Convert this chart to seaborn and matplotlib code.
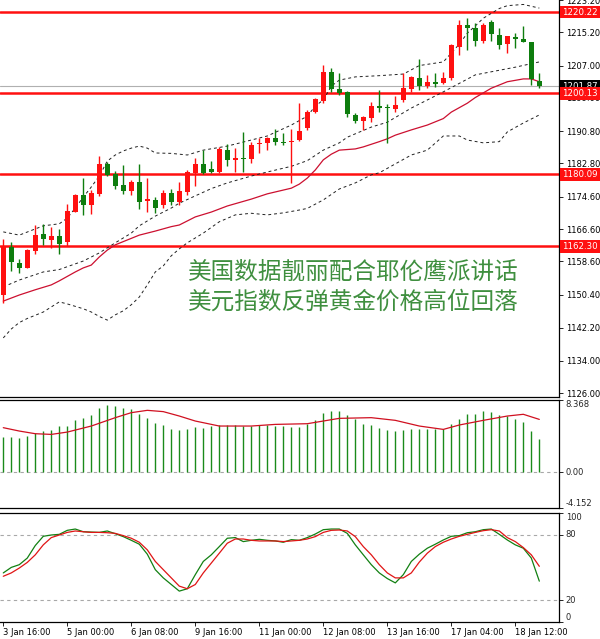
import numpy as np
import pandas as pd
import matplotlib
matplotlib.use("Agg")
import matplotlib.pyplot as plt
import matplotlib.transforms as mtransforms
import seaborn as sns

# ---------------- data ----------------
time_labels = ["3 Jan 16:00", "5 Jan 00:00", "6 Jan 08:00", "9 Jan 16:00", "11 Jan 00:00",
               "12 Jan 08:00", "13 Jan 16:00", "17 Jan 04:00", "18 Jan 12:00"]
label_bars = [0, 8, 16, 24, 32, 40, 48, 56, 64]

opens = [1150.32, 1162.10, 1158.30, 1157.06, 1161.26, 1165.39, 1163.98, 1164.89, 1163.48, 1170.89,
         1175.02, 1172.55, 1175.26, 1182.67, 1180.13, 1177.49, 1176.08, 1178.30, 1173.54, 1173.78,
         1172.55, 1175.44, 1173.36, 1175.83, 1180.53, 1182.67, 1181.44, 1180.77, 1186.13, 1183.66,
         1184.23, 1183.91, 1187.54, 1187.79, 1189.02, 1188.18, 1188.03, 1188.60, 1191.49, 1195.44,
         1198.31, 1205.47, 1201.20, 1200.38, 1194.78, 1193.37, 1193.96, 1197.00, 1196.68, 1196.26,
         1198.48, 1201.20, 1203.99, 1201.94, 1202.85, 1202.60, 1203.84, 1211.64, 1217.00, 1216.34,
         1213.05, 1217.67, 1214.53, 1212.24, 1214.11, 1213.55, 1212.88, 1203.17]
highs = [1164.15, 1163.34, 1159.14, 1161.60, 1167.61, 1167.86, 1167.04, 1166.55, 1172.72, 1175.20,
         1179.14, 1176.25, 1184.72, 1183.24, 1180.95, 1182.43, 1178.72, 1182.67, 1179.14, 1174.60,
         1176.25, 1176.42, 1178.30, 1181.19, 1184.08, 1186.13, 1183.41, 1186.95, 1187.54, 1186.55,
         1190.50, 1188.20, 1189.02, 1189.42, 1191.24, 1190.26, 1191.32, 1197.67, 1196.01, 1199.05,
         1207.12, 1206.46, 1205.14, 1200.70, 1195.20, 1194.53, 1198.06, 1200.95, 1197.42, 1199.54,
         1205.07, 1204.48, 1208.61, 1204.65, 1205.07, 1205.47, 1212.24, 1218.24, 1218.81, 1217.42,
         1217.42, 1218.24, 1216.19, 1214.36, 1214.95, 1216.83, 1212.90, 1205.07]
lows = [1148.27, 1156.32, 1155.83, 1156.90, 1160.45, 1162.67, 1161.85, 1160.37, 1162.42, 1170.70,
        1170.08, 1170.33, 1174.84, 1179.71, 1176.50, 1175.26, 1175.02, 1171.49, 1170.89, 1170.65,
        1171.73, 1172.55, 1172.55, 1175.02, 1177.24, 1180.20, 1180.38, 1180.38, 1182.18, 1180.77,
        1180.77, 1183.00, 1185.47, 1186.13, 1187.37, 1187.37, 1177.91, 1188.35, 1191.07, 1195.20,
        1197.81, 1200.38, 1199.71, 1194.21, 1192.73, 1191.07, 1193.12, 1195.59, 1187.79, 1195.59,
        1198.06, 1200.53, 1200.95, 1201.37, 1201.77, 1202.36, 1203.42, 1209.59, 1210.83, 1211.89,
        1212.48, 1213.05, 1211.08, 1210.01, 1211.25, 1212.73, 1202.18, 1201.37]
closes = [1162.25, 1158.40, 1157.06, 1161.43, 1165.14, 1164.08, 1164.82, 1162.84, 1171.07, 1175.02,
          1172.55, 1175.44, 1182.67, 1179.96, 1177.31, 1176.08, 1178.15, 1173.36, 1173.96, 1171.73,
          1175.44, 1173.36, 1176.00, 1180.77, 1182.67, 1180.38, 1180.77, 1186.38, 1183.66, 1184.23,
          1183.98, 1187.37, 1187.94, 1189.02, 1188.03, 1187.94, 1188.43, 1190.82, 1195.44, 1198.65,
          1205.47, 1201.12, 1200.13, 1195.02, 1193.29, 1194.21, 1197.00, 1196.43, 1196.43, 1197.25,
          1201.37, 1204.23, 1202.01, 1202.85, 1202.36, 1203.99, 1212.06, 1217.00, 1216.34, 1213.05,
          1217.00, 1214.71, 1212.06, 1214.29, 1213.47, 1212.73, 1203.67, 1201.87]

bb_up_idx = [0, 2, 5, 7, 8, 9, 10, 11, 12, 13, 14, 15, 16, 17, 18, 19, 21, 23, 25, 28, 31, 33, 36, 38,
             39, 40, 41, 42, 44, 47, 50, 52, 54, 55, 57, 58, 59, 60, 62, 63, 65, 67]
bb_up_val = [1165.9, 1165.1, 1167.4, 1167.9, 1169.3, 1171.8, 1174.5, 1177.0, 1179.7, 1183.4, 1184.9,
             1185.9, 1186.6, 1187.1, 1186.6, 1185.4, 1185.3, 1184.9, 1186.1, 1187.1, 1188.6, 1189.6,
             1192.3, 1194.5, 1197.0, 1198.5, 1201.9, 1203.4, 1204.2, 1204.5, 1204.9, 1207.0, 1207.6,
             1207.9, 1212.3, 1215.0, 1216.8, 1218.7, 1221.1, 1221.8, 1222.1, 1221.2]

bb_mid_idx = [0, 2, 5, 7, 10, 12, 14, 16, 17, 19, 21, 22, 24, 26, 28, 31, 33, 36, 38, 40, 42, 43, 46,
              48, 51, 55, 59, 64, 67]
bb_mid_val = [1152.3, 1154.0, 1156.0, 1156.6, 1158.7, 1160.7, 1163.2, 1165.6, 1167.4, 1169.8, 1171.8,
              1173.0, 1174.8, 1176.6, 1178.0, 1179.7, 1180.7, 1182.1, 1183.5, 1186.1, 1187.9, 1189.3,
              1191.8, 1193.0, 1196.5, 1200.5, 1204.7, 1206.6, 1207.9]

bb_lo_idx = [0, 1, 2, 3, 5, 7, 8, 10, 11, 12, 13, 14, 15, 16, 17, 18, 19, 20, 21, 22, 23, 25, 27, 29,
             31, 33, 35, 37, 38, 40, 42, 44, 46, 47, 49, 51, 53, 55, 57, 58, 60, 62, 63, 65, 67]
bb_lo_val = [1139.7, 1141.9, 1143.5, 1144.5, 1146.1, 1148.6, 1148.1, 1146.9, 1146.1, 1145.0, 1144.1,
             1145.4, 1146.4, 1147.9, 1149.8, 1152.8, 1156.0, 1157.5, 1160.0, 1161.7, 1163.2, 1165.6,
             1168.4, 1170.1, 1170.5, 1170.1, 1170.6, 1171.3, 1171.7, 1173.8, 1176.5, 1178.0, 1180.0,
             1180.5, 1182.7, 1184.9, 1186.1, 1189.6, 1189.6, 1188.6, 1187.9, 1188.2, 1190.6, 1192.8,
             1194.8]

ma_idx = [0, 2, 4, 6, 7, 9, 10, 11, 12, 13, 14, 15, 17, 19, 21, 22, 24, 26, 28, 31, 33, 36, 37, 38,
          39, 40, 41, 42, 44, 45, 47, 48, 49, 51, 53, 55, 56, 58, 59, 61, 63, 65, 66, 67]
ma_val = [1148.8, 1150.3, 1151.6, 1152.8, 1153.8, 1156.0, 1157.0, 1157.7, 1159.7, 1161.4, 1162.7,
          1163.5, 1165.1, 1166.1, 1167.2, 1167.6, 1169.6, 1170.8, 1172.3, 1174.0, 1175.3, 1176.7,
          1177.7, 1179.2, 1181.2, 1183.7, 1185.1, 1186.1, 1186.4, 1186.9, 1188.2, 1188.9, 1189.8,
          1191.1, 1192.3, 1193.9, 1195.5, 1197.7, 1199.1, 1201.4, 1203.0, 1203.7, 1203.7, 1203.0]

levels = [1220.22, 1200.13, 1180.09, 1162.30]
last_price = 1201.87
trend_start = (0, 1146.6)
trend_end = (69.6, 1205.5)

main_ticks = [1223.20, 1215.20, 1207.00, 1199.00, 1190.80, 1182.80, 1174.60, 1166.60, 1158.60,
              1150.40, 1142.20, 1134.00, 1126.00]

macd_hist = [4.11, 4.11, 3.99, 4.19, 4.57, 4.77, 4.88, 5.35, 5.35, 6.05, 6.32, 6.63, 7.48, 7.79, 7.67,
             7.48, 7.29, 6.78, 6.32, 5.74, 5.47, 4.96, 4.84, 5.04, 5.23, 5.16, 5.35, 5.47, 5.43, 5.43,
             5.35, 5.35, 5.47, 5.47, 5.35, 5.35, 5.27, 5.27, 5.54, 6.05, 6.90, 7.09, 7.09, 6.63, 6.12,
             5.62, 5.47, 5.16, 4.84, 4.77, 4.84, 5.04, 5.04, 4.96, 4.96, 4.96, 5.54, 6.20, 6.78, 6.78,
             7.09, 6.98, 6.63, 6.51, 6.20, 5.85, 4.77, 3.88]
sig_idx = [0, 2, 4, 6, 8, 11, 14, 16, 18, 20, 22, 24, 27, 31, 34, 38, 40, 42, 46, 49, 52, 55, 57, 60,
           63, 65, 67]
sig_val = [5.16, 4.77, 4.46, 4.38, 4.65, 5.35, 6.32, 6.90, 7.17, 7.02, 6.51, 5.93, 5.35, 5.35, 5.54,
           5.62, 5.93, 6.24, 6.32, 6.01, 5.35, 4.96, 5.47, 6.01, 6.51, 6.71, 6.12]

stoch_k = [45.0, 50.1, 52.6, 58.7, 70.3, 78.8, 80.0, 80.6, 84.3, 85.5, 83.0, 82.7, 82.4, 83.7, 81.2,
           78.5, 75.1, 71.5, 62.3, 48.0, 40.4, 34.3, 28.2, 30.4, 43.4, 55.6, 61.7, 69.3, 77.0, 77.6,
           73.9, 75.1, 76.0, 75.1, 74.5, 73.3, 75.7, 75.1, 77.6, 80.9, 84.9, 85.5, 85.5, 81.5, 70.9,
           61.7, 52.6, 45.0, 39.8, 35.8, 43.4, 55.6, 62.3, 67.8, 71.5, 75.4, 78.8, 79.4, 82.1, 83.0,
           84.9, 85.5, 80.6, 75.4, 70.9, 67.8, 58.7, 37.4]
stoch_d = [41.9, 45.0, 49.5, 54.7, 61.7, 70.9, 77.6, 80.0, 82.4, 83.7, 83.0, 82.4, 82.4, 82.1, 81.5,
           79.4, 77.0, 73.3, 66.3, 55.6, 48.0, 40.4, 32.8, 30.4, 34.3, 45.0, 54.1, 63.2, 72.4, 76.3,
           76.3, 75.1, 74.5, 74.5, 74.5, 73.9, 74.5, 75.1, 76.3, 78.5, 82.4, 84.3, 84.6, 83.7, 78.5,
           69.3, 61.7, 52.6, 45.0, 40.4, 40.4, 45.0, 55.0, 63.2, 69.3, 73.3, 76.3, 78.8, 80.6, 82.4,
           84.0, 84.9, 83.7, 77.6, 73.9, 68.4, 61.7, 51.1]

headline = ["美国数据靓丽配合耶伦鹰派讲话", "美元指数反弹黄金价格高位回落"]

# ---------------- styling ----------------
sns.set_theme(style="white")
plt.rcParams["font.family"] = ["DejaVu Sans"]

RED = "#ff1010"
GREEN = "#0e7d0e"
TXT_GREEN = "#3f8f3f"

W, H = 600, 639
fig = plt.figure(figsize=(W / 100, H / 100), dpi=100)
right = 559 / W
ax1 = fig.add_axes([0, 1 - 397 / H, right, 397 / H])
ax2 = fig.add_axes([0, 1 - 508 / H, right, 108 / H])
ax3 = fig.add_axes([0, 1 - 622 / H, right, 109 / H])

n = len(opens)
bars = np.arange(n)
o = np.array(opens); c = np.array(closes); hi = np.array(highs); lo = np.array(lows)
cols = np.where(c >= o, RED, GREEN)

# ---- main panel ----
for y in levels:
    ax1.axhline(y, color=RED, lw=1.8, zorder=2)
ax1.axhline(last_price, color="#b0b0b0", lw=0.8, zorder=1)

dash = (0, (3, 3))
sns.lineplot(x=bb_up_idx, y=bb_up_val, ax=ax1, color="#202020", lw=0.7, linestyle=dash, zorder=3)
sns.lineplot(x=bb_mid_idx, y=bb_mid_val, ax=ax1, color="#202020", lw=0.7, linestyle=dash, zorder=3)
sns.lineplot(x=bb_lo_idx, y=bb_lo_val, ax=ax1, color="#202020", lw=0.7, linestyle=dash, zorder=3)
sns.lineplot(x=ma_idx, y=ma_val, ax=ax1, color="#cc1030", lw=0.9, zorder=3)

ax1.vlines(bars, lo, hi, colors=cols, lw=1.0, zorder=4)
ax1.bar(bars, np.maximum(np.abs(c - o), 0.25), bottom=np.minimum(o, c), width=0.62,
        color=cols, linewidth=0, zorder=5)

ax1.annotate("", xy=trend_end, xytext=trend_start,
             arrowprops=dict(arrowstyle="-|>", color="#3d8b3d", lw=3.2, mutation_scale=16,
                             shrinkA=0, shrinkB=0), zorder=6)

for k, line in enumerate(headline):
    fig.text(188 / W, 1 - (272 + 30 * k) / H, line, fontsize=17, color=TXT_GREEN,
             family=["Noto Sans CJK SC", "DejaVu Sans"], va="center", ha="left")

ax1.set_ylim(1125.1, 1223.2)
ax1.yaxis.tick_right()
ax1.set_yticks(main_ticks)
ax1.set_yticklabels([f"{v:.2f}" for v in main_ticks])

blend1 = mtransforms.blended_transform_factory(ax1.transAxes, ax1.transData)
ax1.text(1.006, last_price, f"{last_price:.2f}", transform=blend1, fontsize=6.2, color="white",
         va="center", ha="left", clip_on=False, zorder=10,
         bbox=dict(boxstyle="square,pad=0.22", fc="black", ec="none"))
for y in levels:
    ax1.text(1.006, y, f"{y:.2f}", transform=blend1, fontsize=6.2, color="white",
             va="center", ha="left", clip_on=False, zorder=11,
             bbox=dict(boxstyle="square,pad=0.22", fc=RED, ec="none"))

# ---- MACD panel ----
ax2.axhline(0, color="#a8a8a8", lw=0.8, linestyle=dash)
ax2.vlines(bars, 0, macd_hist, colors="#1a8a1a", lw=1.0)
sns.lineplot(x=sig_idx, y=sig_val, ax=ax2, color="#d01020", lw=0.9)
ax2.set_ylim(-4.152, 8.368)
ax2.yaxis.tick_right()
ax2.set_yticks([-4.152, 0, 8.368])
ax2.set_yticklabels([])
blend2 = mtransforms.blended_transform_factory(ax2.transAxes, ax2.transData)
for val, txt, va in [(8.368, "8.368", "top"), (0, "0.00", "center"), (-4.152, "-4.152", "bottom")]:
    ax2.text(1.012, val, txt, transform=blend2, fontsize=6, va=va, ha="left", clip_on=False)

# ---- Stochastic panel ----
ax3.axhline(80, color="#a8a8a8", lw=0.8, linestyle=dash)
ax3.axhline(20, color="#a8a8a8", lw=0.8, linestyle=dash)
sns.lineplot(x=bars, y=stoch_k, ax=ax3, color="#128012", lw=0.9)
sns.lineplot(x=bars, y=stoch_d, ax=ax3, color="#e01515", lw=0.9)
ax3.set_ylim(-0.3, 100.3)
ax3.yaxis.tick_right()
ax3.set_yticks([0, 20, 80, 100])
ax3.set_yticklabels([])
blend3 = mtransforms.blended_transform_factory(ax3.transAxes, ax3.transData)
for val, txt, va in [(100, "100", "top"), (80, "80", "center"), (20, "20", "center"), (0, "0", "bottom")]:
    ax3.text(1.012, val, txt, transform=blend3, fontsize=6, va=va, ha="left", clip_on=False)

ax3.set_xticks(label_bars)
ax3.set_xticklabels(time_labels, ha="left")

# ---- common ----
for ax in (ax1, ax2, ax3):
    ax.set_xlim(-0.41, 69.46)
    ax.set_facecolor("white")
    ax.set_xlabel("")
    ax.set_ylabel("")
    ax.grid(False)
    ax.spines["left"].set_visible(False)
    for s in ("right", "bottom", "top"):
        ax.spines[s].set_color("black")
        ax.spines[s].set_linewidth(0.9)
    ax.tick_params(axis="y", which="both", right=True, length=3, width=0.6, labelsize=6,
                   pad=2, colors="black")
    ax.tick_params(axis="x", which="both", bottom=True, length=3, width=0.6, labelsize=6,
                   pad=1, colors="black")
ax1.spines["top"].set_visible(False)
ax1.set_xticks(label_bars); ax1.set_xticklabels([])
ax2.set_xticks(label_bars); ax2.set_xticklabels([])
ax1.tick_params(axis="x", length=0)
ax2.tick_params(axis="x", length=0)

fig.savefig("out.png", dpi=100, facecolor="white")
